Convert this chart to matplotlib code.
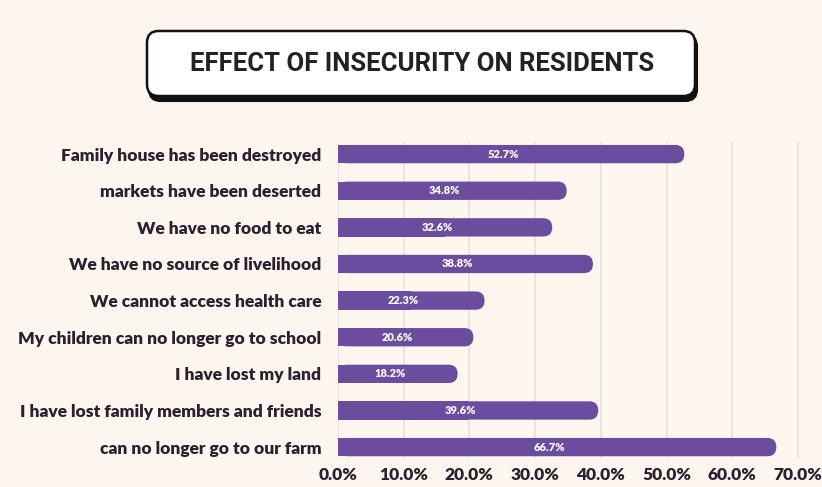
import matplotlib
matplotlib.use("Agg")
import matplotlib.pyplot as plt
from matplotlib.patches import FancyBboxPatch

# survey responses, top to bottom
labels = [
    "Family house has been destroyed",
    "markets have been deserted",
    "We have no food to eat",
    "We have no source of livelihood",
    "We cannot access health care",
    "My children can no longer go to school",
    "I have lost my land",
    "I have lost family members and friends",
    "can no longer go to our farm",
]
values = [52.7, 34.8, 32.6, 38.8, 22.3, 20.6, 18.2, 39.6, 66.7]
xticks = [0, 10, 20, 30, 40, 50, 60, 70]

bg = "#FDF6EE"
purple = "#6C4C9E"
ink = "#2E1F30"

fig = plt.figure(figsize=(8.22, 4.87), dpi=100, facecolor=bg)
ax = fig.add_axes([338 / 822, 1 - 465.4 / 487, 462 / 822, 329.6 / 487])
ax.set_facecolor(bg)

ax.set_xlim(0, 70.3)
ax.set_ylim(len(labels) - 0.5, -0.5)

for x in xticks:
    ax.axvline(x, ymin=0.025, ymax=0.978, color="#E6E1DA", lw=1.2, zorder=0)

bar_h = 0.5
# pixel sizes in data units, used to keep the round caps circular
px_x = 70.3 / 462
px_y = 9 / 329.6
r = 9 * px_x
for i, v in enumerate(values):
    ax.barh(i, v / 2, height=bar_h, color=purple, zorder=2)
    cap = FancyBboxPatch((0, i - bar_h / 2), v, bar_h,
                         boxstyle=f"round,pad=0,rounding_size={r}",
                         mutation_aspect=px_y / px_x,
                         facecolor=purple, edgecolor="none", zorder=2)
    ax.add_patch(cap)
    ax.text(v / 2 - 1.2, i, f"{v}%", color="white", ha="center", va="center",
            fontsize=8, fontweight="heavy", family="Lato", zorder=3)

ax.set_yticks(range(len(labels)))
ax.set_yticklabels(labels, fontsize=12.5, fontweight="heavy", family="Lato", color=ink)
ax.set_xticks(xticks)
ax.set_xticklabels([f"{x:.1f}%" for x in xticks], fontsize=12.5,
                   fontweight="heavy", family="Lato", color=ink)
ax.tick_params(axis="y", length=0, pad=12)
ax.tick_params(axis="x", length=0, pad=1)
for s in ax.spines.values():
    s.set_visible(False)

# title box with a dark drop shadow
W, H = 822, 487
shadow = FancyBboxPatch((149 / W, 1 - 101 / H), 548 / W, 66 / H,
                        boxstyle="round,pad=0,rounding_size=0.014",
                        transform=fig.transFigure, facecolor="#111111",
                        edgecolor="#111111", lw=1.5, mutation_aspect=W / H)
box = FancyBboxPatch((147 / W, 1 - 96 / H), 548 / W, 65 / H,
                     boxstyle="round,pad=0,rounding_size=0.014",
                     transform=fig.transFigure, facecolor="white",
                     edgecolor="#111111", lw=1.8, mutation_aspect=W / H)
fig.patches.extend([shadow, box])
fig.text(422 / W, 1 - 64 / H, "EFFECT OF INSECURITY ON RESIDENTS",
         ha="center", va="center", fontsize=18.5, fontweight="bold",
         family="Roboto", color="#222222")

fig.savefig("out.png", dpi=100, facecolor=bg)
